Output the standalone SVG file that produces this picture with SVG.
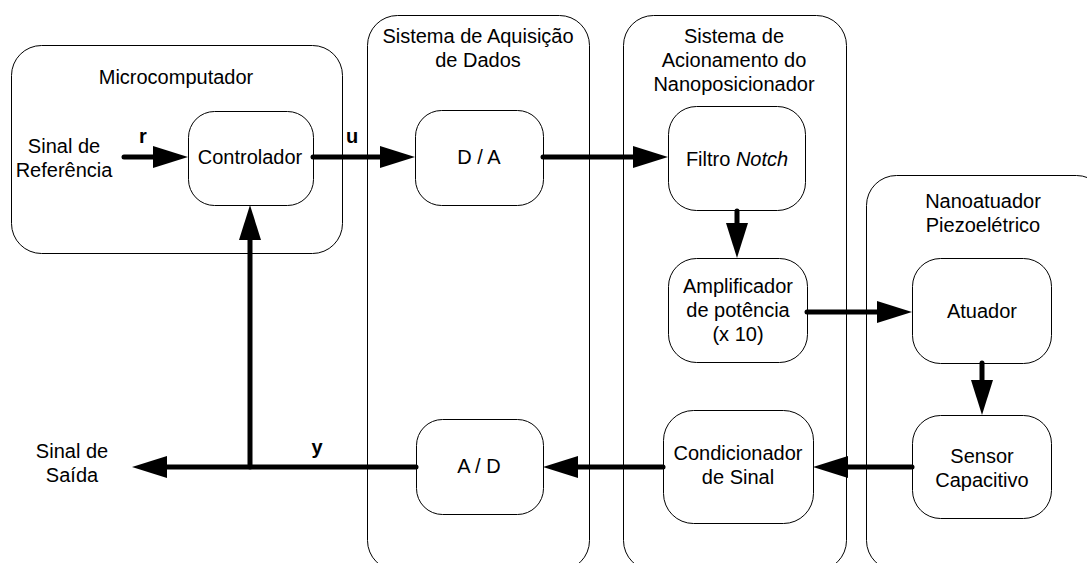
<svg xmlns="http://www.w3.org/2000/svg" width="1087" height="563" viewBox="0 0 1087 563">
<style>
.cont{fill:#fff;stroke:#000;stroke-width:1}
.box{fill:#fff;stroke:#000;stroke-width:1}
text{font-family:"Liberation Sans",Arial,sans-serif;font-size:20px;fill:#000;text-anchor:middle}
.b{font-weight:bold}
.conn{fill:none;stroke:#000;stroke-width:5;stroke-linecap:round}
</style>
<defs>
<marker id="ah" viewBox="0 0 35 22" markerWidth="35" markerHeight="22" refX="0" refY="11" markerUnits="userSpaceOnUse" orient="auto">
<path d="M0,0 L35,11 L0,22 Z" fill="#000"/>
</marker>
</defs>
<rect width="1087" height="563" fill="#fff"/>

<g id="microcomputador">
<rect class="cont" x="11.5" y="45.5" width="331" height="208" rx="30"/>
<text x="176" y="84">Microcomputador</text>
</g>
<g id="aquisicao">
<rect class="cont" x="367.5" y="15.5" width="222" height="555" rx="30"/>
<text x="478" y="43">Sistema de Aquisição</text>
<text x="478" y="67">de Dados</text>
</g>
<g id="acionamento">
<rect class="cont" x="623.5" y="15.5" width="223" height="555" rx="30"/>
<text x="734" y="43">Sistema de</text>
<text x="734" y="67">Acionamento do</text>
<text x="734" y="91">Nanoposicionador</text>
</g>
<g id="nanoatuador">
<rect class="cont" x="866.5" y="175.5" width="240" height="395" rx="30"/>
<text x="983" y="208">Nanoatuador</text>
<text x="983" y="232">Piezoelétrico</text>
</g>

<g id="sinal-referencia">
<text x="64" y="153">Sinal de</text>
<text x="64" y="177">Referência</text>
</g>
<g id="controlador">
<rect class="box" x="188.5" y="111.5" width="125" height="94" rx="26"/>
<text x="250" y="164">Controlador</text>
</g>
<g id="da">
<rect class="box" x="415.5" y="110.5" width="128" height="95" rx="26"/>
<text x="479" y="164">D / A</text>
</g>
<g id="filtro">
<rect class="box" x="668.5" y="106.5" width="137" height="104" rx="28"/>
<text x="737" y="166">Filtro <tspan font-style="italic">Notch</tspan></text>
</g>
<g id="amplificador">
<rect class="box" x="668.5" y="258.5" width="139" height="104" rx="28"/>
<text x="738" y="293">Amplificador</text>
<text x="738" y="317">de potência</text>
<text x="738" y="341">(x 10)</text>
</g>
<g id="atuador">
<rect class="box" x="912.5" y="258.5" width="139" height="105" rx="28"/>
<text x="982" y="318">Atuador</text>
</g>
<g id="sensor">
<rect class="box" x="912.5" y="415.5" width="139" height="103" rx="28"/>
<text x="982" y="463">Sensor</text>
<text x="982" y="487">Capacitivo</text>
</g>
<g id="condicionador">
<rect class="box" x="663.5" y="410.5" width="150" height="113" rx="30"/>
<text x="738" y="460">Condicionador</text>
<text x="738" y="484">de Sinal</text>
</g>
<g id="ad">
<rect class="box" x="416.5" y="419.5" width="127" height="95" rx="26"/>
<text x="479" y="473">A / D</text>
</g>
<g id="sinal-saida">
<text x="72" y="458">Sinal de</text>
<text x="72" y="482">Saída</text>
</g>

<g id="connectors">
<path class="conn" d="M124,157 H153" marker-end="url(#ah)"/>
<path class="conn" d="M313,157 H380" marker-end="url(#ah)"/>
<path class="conn" d="M543,157 H633" marker-end="url(#ah)"/>
<path class="conn" d="M737,211 V223" marker-end="url(#ah)"/>
<path class="conn" d="M807,312 H877" marker-end="url(#ah)"/>
<path class="conn" d="M982,363 V380" marker-end="url(#ah)"/>
<path class="conn" d="M912,467 H848" marker-end="url(#ah)"/>
<path class="conn" d="M663,467 H578" marker-end="url(#ah)"/>
<path class="conn" d="M416,467 H167" marker-end="url(#ah)"/>
<path class="conn" d="M250,467 V240" marker-end="url(#ah)"/>
<text class="b" x="143" y="143">r</text>
<text class="b" x="352" y="143">u</text>
<text class="b" x="317" y="454">y</text>
</g>
</svg>
